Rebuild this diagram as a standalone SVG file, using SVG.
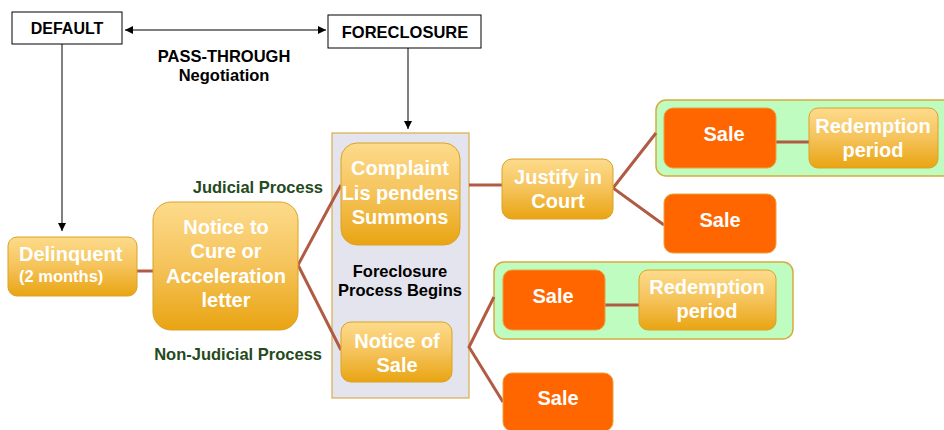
<svg xmlns="http://www.w3.org/2000/svg" width="944" height="430" viewBox="0 0 944 430">
  <style>
    .lbl { font-family: "Liberation Sans", Arial, sans-serif; font-weight: bold; }
    .box { fill: #ffffff; stroke: #000000; stroke-width: 1; }
    .gold { fill: url(#goldGrad); stroke: #d9a326; stroke-width: 1; }
    .orange { fill: #ff6600; stroke: #e5a43a; stroke-width: 1; }
    .group { fill: #bffcbf; stroke: #d8aa3e; stroke-width: 1.5; }
    .wt { fill: #ffffff; font-size: 20px; text-anchor: middle; }
    .bk { fill: #000000; font-size: 16.5px; text-anchor: middle; }
    .gr { fill: #254a1c; font-size: 16.5px; }
    .conn { stroke: #b05c45; stroke-width: 3; fill: none; }
    .arr { stroke: #808080; stroke-width: 2; fill: none; }
  </style>
  <defs>
    <linearGradient id="goldGrad" x1="0" y1="0" x2="0" y2="1">
      <stop offset="0" stop-color="#fddb8c"/>
      <stop offset="0.5" stop-color="#f5c35a"/>
      <stop offset="1" stop-color="#e9a412"/>
    </linearGradient>
    <marker id="ah2" viewBox="0 0 10 10" refX="10" refY="5" markerWidth="8" markerHeight="8" orient="auto-start-reverse" markerUnits="userSpaceOnUse">
      <path d="M0,0 L10,5 L0,10 z" fill="#000000"/>
    </marker>
  </defs>

  <!-- background panels -->
  <g id="process-panel">
    <rect x="332" y="133" width="137" height="265" fill="#e4e4ee" stroke="#d9ad4a" stroke-width="1.2"/>
    <text class="lbl bk" x="400" y="277">Foreclosure</text>
    <text class="lbl bk" x="400" y="296">Process Begins</text>
  </g>
  <g id="group-judicial">
    <rect class="group" x="656" y="100" width="300" height="76" rx="10"/>
  </g>
  <g id="group-nonjudicial">
    <rect class="group" x="494" y="262" width="299" height="77" rx="10"/>
  </g>

  <g id="connectors">
    <line x1="125" y1="30" x2="326" y2="30" stroke="#000000" stroke-width="1.2" marker-start="url(#ah2)" marker-end="url(#ah2)"/>
    <line class="arr" x1="62" y1="44" x2="62" y2="231" marker-end="url(#ah2)"/>
    <line class="arr" x1="408" y1="48" x2="408" y2="129" marker-end="url(#ah2)"/>
    <line class="conn" x1="137" y1="271" x2="153" y2="271"/>
    <polyline class="conn" points="341,185 298,265 341,350"/>
    <line class="conn" x1="469" y1="185" x2="502" y2="185"/>
    <polyline class="conn" points="656,133 613,188 664,225"/>
    <line class="conn" x1="776" y1="142" x2="809" y2="142"/>
    <polyline class="conn" points="494,297 469,347 503,402"/>
    <line class="conn" x1="605" y1="305" x2="639" y2="305"/>
  </g>

  <g id="default">
    <rect class="box" x="12" y="12" width="110" height="32"/>
    <text class="lbl" x="67" y="34" font-size="16" text-anchor="middle">DEFAULT</text>
  </g>
  <g id="foreclosure">
    <rect class="box" x="328" y="15" width="153" height="33"/>
    <text class="lbl" x="405" y="38" font-size="16.5" text-anchor="middle">FORECLOSURE</text>
  </g>
  <g id="pass-through">
    <text class="lbl bk" x="224" y="62">PASS-THROUGH</text>
    <text class="lbl bk" x="224" y="81">Negotiation</text>
  </g>
  <g id="judicial-label">
    <text class="lbl gr" x="323" y="193" text-anchor="end">Judicial Process</text>
  </g>
  <g id="nonjudicial-label">
    <text class="lbl gr" x="322" y="360" text-anchor="end">Non-Judicial Process</text>
  </g>

  <g id="delinquent">
    <rect class="gold" x="8" y="237" width="129" height="59" rx="9"/>
    <text class="lbl" x="19" y="261" font-size="20" fill="#ffffff">Delinquent</text>
    <text class="lbl" x="19" y="282" font-size="16.5" fill="#ffffff">(2 months)</text>
  </g>
  <g id="notice-to-cure">
    <rect class="gold" x="153" y="202" width="145" height="128" rx="18"/>
    <text class="lbl wt" x="226" y="234">Notice to</text>
    <text class="lbl wt" x="226" y="258">Cure or</text>
    <text class="lbl wt" x="226" y="283">Acceleration</text>
    <text class="lbl wt" x="226" y="307">letter</text>
  </g>
  <g id="complaint">
    <rect class="gold" x="341" y="143" width="119" height="102" rx="16"/>
    <text class="lbl wt" x="400" y="175">Complaint</text>
    <text class="lbl wt" x="400" y="200">Lis pendens</text>
    <text class="lbl wt" x="400" y="224">Summons</text>
  </g>
  <g id="notice-of-sale">
    <rect class="gold" x="341" y="322" width="111" height="60" rx="10"/>
    <text class="lbl wt" x="397" y="348">Notice of</text>
    <text class="lbl wt" x="397" y="372">Sale</text>
  </g>
  <g id="justify">
    <rect class="gold" x="502" y="159" width="111" height="60" rx="10"/>
    <text class="lbl wt" x="558" y="184">Justify in</text>
    <text class="lbl wt" x="558" y="208">Court</text>
  </g>
  <g id="sale-1">
    <rect class="orange" x="664" y="108" width="112" height="60" rx="9"/>
    <text class="lbl wt" x="724" y="141">Sale</text>
  </g>
  <g id="redemption-1">
    <rect class="gold" x="809" y="108" width="129" height="60" rx="9"/>
    <text class="lbl wt" x="873" y="133">Redemption</text>
    <text class="lbl wt" x="873" y="157">period</text>
  </g>
  <g id="sale-2">
    <rect class="orange" x="664" y="194" width="112" height="59" rx="9"/>
    <text class="lbl wt" x="720" y="227">Sale</text>
  </g>
  <g id="sale-3">
    <rect class="orange" x="503" y="270" width="102" height="60" rx="9"/>
    <text class="lbl wt" x="553" y="303">Sale</text>
  </g>
  <g id="redemption-2">
    <rect class="gold" x="639" y="270" width="137" height="60" rx="9"/>
    <text class="lbl wt" x="707" y="294">Redemption</text>
    <text class="lbl wt" x="707" y="318">period</text>
  </g>
  <g id="sale-4">
    <rect class="orange" x="503" y="373" width="110" height="58" rx="9"/>
    <text class="lbl wt" x="558" y="405">Sale</text>
  </g>
</svg>
